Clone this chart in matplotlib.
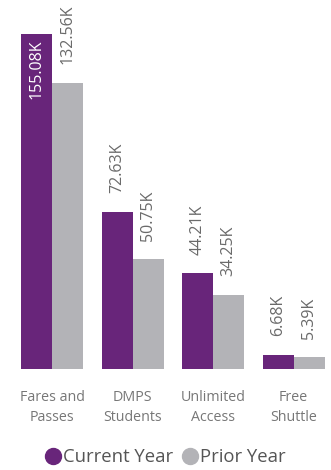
import matplotlib
matplotlib.use("Agg")
import matplotlib.pyplot as plt
from matplotlib.lines import Line2D
import numpy as np

categories = ["Fares and\nPasses", "DMPS\nStudents", "Unlimited\nAccess", "Free\nShuttle"]
current_year = [155.08, 72.63, 44.21, 6.68]
prior_year = [132.56, 50.75, 34.25, 5.39]
series_names = ["Current Year", "Prior Year"]

PURPLE = "#68257A"
GREY = "#B3B3B7"
TEXT = "#6A6A6A"

plt.rcParams["font.family"] = ["Open Sans", "DejaVu Sans"]

W, H = 331, 470
fig = plt.figure(figsize=(W / 100, H / 100), dpi=100)
ax = fig.add_axes([0, 101 / H, 1, 369 / H])

x = np.arange(len(categories))
bw = 31 / 80.5
ax.set_xlim(-52 / 80.5, (W - 52) / 80.5)
ax.set_ylim(0, 170.8)

b1 = ax.bar(x - bw / 2, current_year, width=bw, color=PURPLE)
b2 = ax.bar(x + bw / 2, prior_year, width=bw, color=GREY)

ymax = ax.get_ylim()[1]
for bars, vals in ((b1, current_year), (b2, prior_year)):
    for rect, v in zip(bars, vals):
        cx = rect.get_x() + rect.get_width() / 2
        label = f"{v:.2f}K"
        if v > 0.85 * ymax:
            ax.annotate(label, (cx, v), xytext=(0, -4), textcoords="offset points",
                        rotation=90, ha="center", va="top", color="white", fontsize=11.5)
        else:
            ax.annotate(label, (cx, v), xytext=(0, 13.5), textcoords="offset points",
                        rotation=90, ha="center", va="bottom", color=TEXT, fontsize=11.5)

ax.set_xticks(x)
ax.set_xticklabels(categories, fontsize=10.3, color="#777777", linespacing=1.5)
ax.tick_params(axis="x", length=0, pad=15)
ax.set_yticks([])
for s in ax.spines.values():
    s.set_visible(False)

handles = [Line2D([], [], marker="o", linestyle="", markersize=11.5, color=c)
           for c in (PURPLE, GREY)]
fig.legend(handles, series_names, loc="center", bbox_to_anchor=(0.5, 13 / H),
           ncol=2, frameon=False, fontsize=13.3, labelcolor="#555555",
           handletextpad=0.15, columnspacing=0.5, handlelength=0.8,
           borderpad=0, borderaxespad=0)

fig.savefig("out.png", dpi=100)
